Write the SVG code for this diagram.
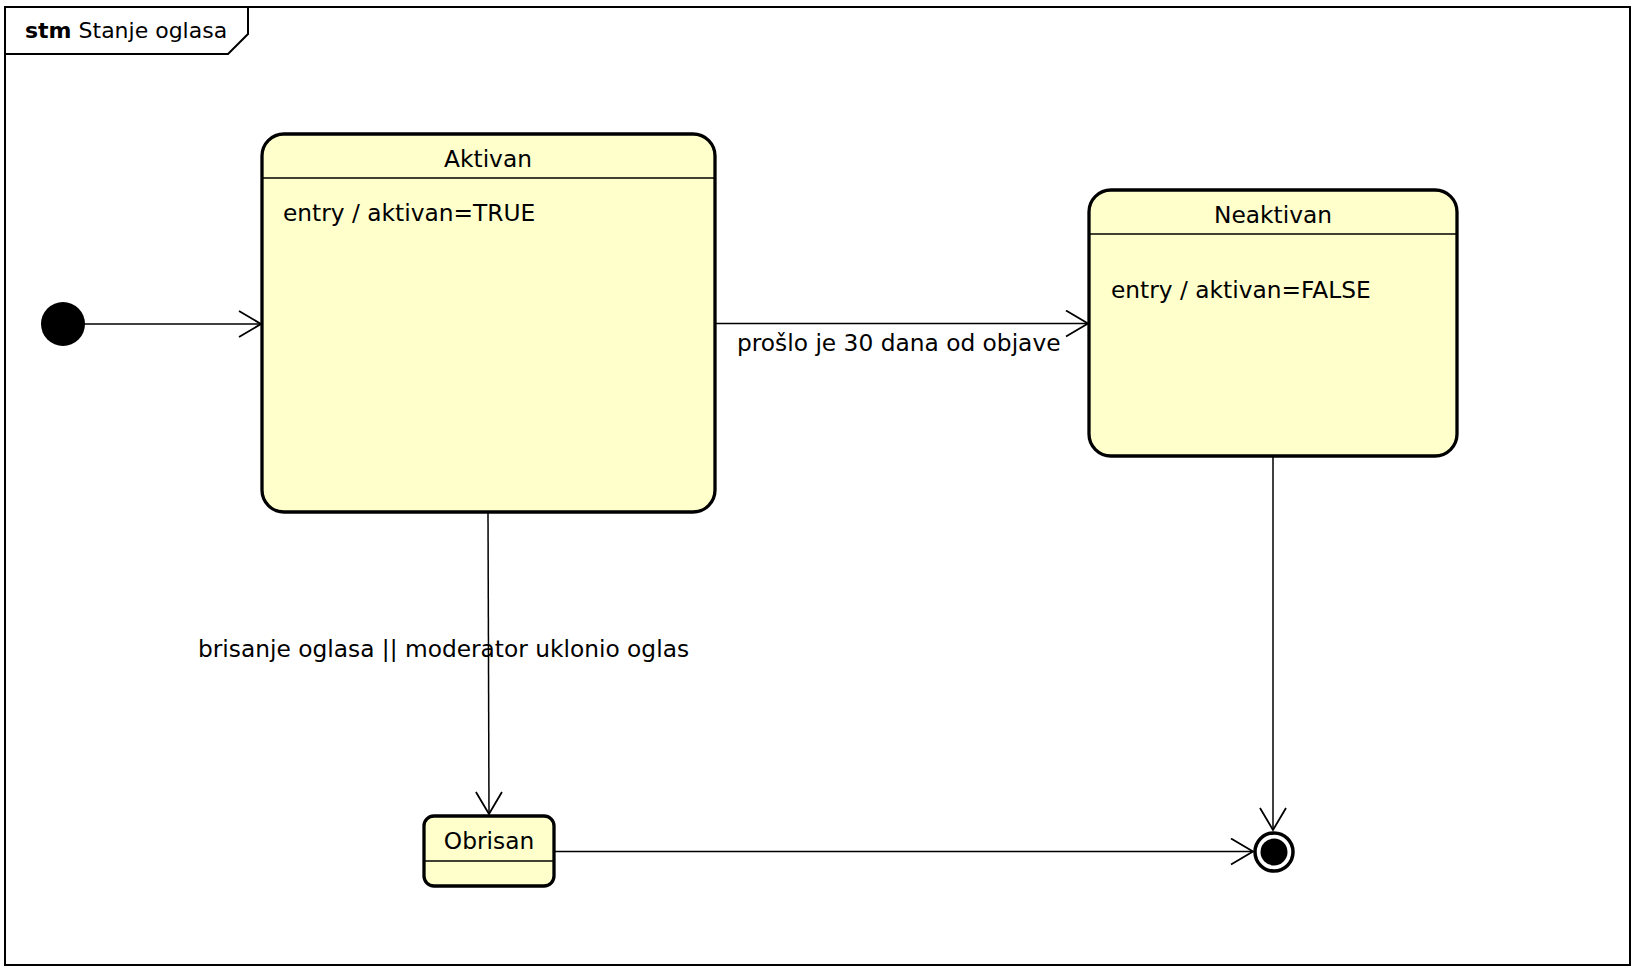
<svg xmlns="http://www.w3.org/2000/svg" width="1646" height="976" viewBox="0 0 1646 976">
  <style>
    text { font-family: "DejaVu Sans", "Liberation Sans", sans-serif; font-size: 23.3px; fill: #000; }
    .title { font-size: 22px; }
    .state { fill: #ffffcc; stroke: #000; stroke-width: 3.3; }
    .div { stroke: #000; stroke-width: 1.5; }
    .edge { fill: none; stroke: #000; stroke-width: 1.5; }
    .mid { text-anchor: middle; }
  </style>
  <defs>
    <marker id="open" markerUnits="userSpaceOnUse" markerWidth="30" markerHeight="30" refX="23" refY="14" orient="auto">
      <path d="M1,1 L23,14 L1,27" fill="none" stroke="#000" stroke-width="1.8"/>
    </marker>
  </defs>
  <rect width="1646" height="976" fill="#fff"/>

  <!-- frame -->
  <g id="frame">
    <rect x="5" y="7" width="1625" height="958" fill="none" stroke="#000" stroke-width="2"/>
    <path d="M5,54 L228,54 L248,34 L248,7" fill="none" stroke="#000" stroke-width="2"/>
    <text class="title" x="25" y="38"><tspan font-weight="bold">stm</tspan> Stanje oglasa</text>
  </g>

  <!-- connectors -->
  <g id="connectors">
    <path class="edge" d="M84,324 L261,324" marker-end="url(#open)"/>
    <path class="edge" d="M716,323.5 L1088,323.5" marker-end="url(#open)"/>
    <text x="737" y="351">prošlo je 30 dana od objave</text>
    <path class="edge" d="M488,513 L489,814" marker-end="url(#open)"/>
    <text x="198" y="657">brisanje oglasa || moderator uklonio oglas</text>
    <path class="edge" d="M1273,457 L1273,830" marker-end="url(#open)"/>
    <path class="edge" d="M555,851.5 L1253,851.5" marker-end="url(#open)"/>
  </g>

  <g id="initial">
    <circle cx="63" cy="324" r="22" fill="#000"/>
  </g>

  <g id="aktivan">
    <rect class="state" x="262" y="134" width="453" height="378" rx="22" ry="22"/>
    <line class="div" x1="262" y1="178" x2="715" y2="178"/>
    <text class="mid" x="488" y="167">Aktivan</text>
    <text x="283" y="221">entry / aktivan=TRUE</text>
  </g>

  <g id="neaktivan">
    <rect class="state" x="1089" y="190" width="368" height="266" rx="22" ry="22"/>
    <line class="div" x1="1089" y1="234" x2="1457" y2="234"/>
    <text class="mid" x="1273" y="223">Neaktivan</text>
    <text x="1111" y="298">entry / aktivan=FALSE</text>
  </g>

  <g id="obrisan">
    <rect class="state" x="424" y="816" width="130" height="70" rx="10" ry="10"/>
    <line class="div" x1="424" y1="861" x2="554" y2="861"/>
    <text class="mid" x="489" y="849">Obrisan</text>
  </g>

  <g id="final">
    <circle cx="1274" cy="852" r="19" fill="#fff" stroke="#000" stroke-width="3.5"/>
    <circle cx="1274" cy="852" r="13.5" fill="#000"/>
  </g>
</svg>
